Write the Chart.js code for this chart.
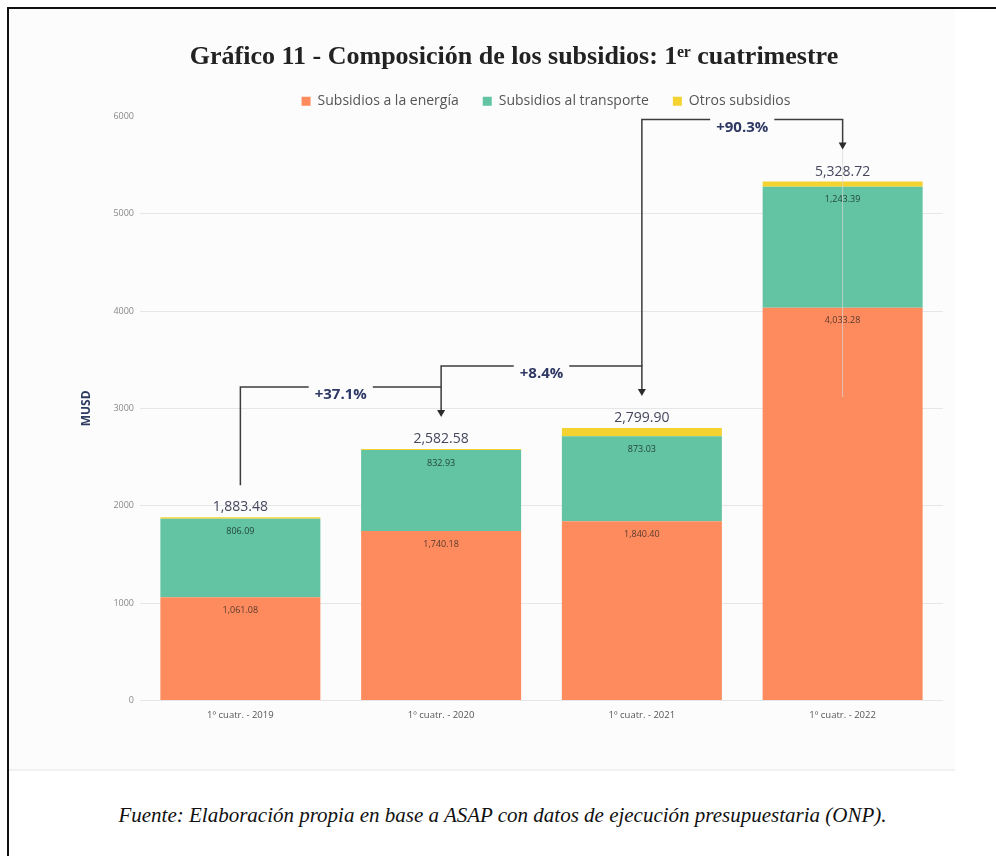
<!DOCTYPE html>
<html>
<head>
<meta charset="utf-8">
<script src="https://cdn.jsdelivr.net/npm/chart.js@4"></script>
<style>
  html, body { margin: 0; padding: 0; background: #fff; width: 996px; height: 856px; overflow: hidden; }
  #frame { position: absolute; left: 7px; top: 7px; width: 989px; height: 849px;
           border-left: 2px solid #111; border-top: 2px solid #111; }
  #box { position: absolute; left: 9px; top: 9px; width: 946px; height: 760px;
         background: #fcfcfd; border-bottom: 2px solid #f1f1f2; }
  #fuente { position: absolute; left: 9px; width: 987px; top: 803px; text-align: center;
            font-family: "Liberation Serif", serif; font-style: italic; font-size: 21px; color: #111; }
</style>
</head>
<body>
<div id="frame"></div>
<div id="box"><canvas id="bar-chart"></canvas></div>
<div id="fuente">Fuente: Elaboración propia en base a ASAP con datos de ejecución presupuestaria (ONP).</div>
<script>
const categories = ["1º cuatr. - 2019", "1º cuatr. - 2020", "1º cuatr. - 2021", "1º cuatr. - 2022"];
const energia = [1061.08, 1740.18, 1840.40, 4033.28];
const transporte = [806.09, 832.93, 873.03, 1243.39];
const otros = [16.31, 9.47, 86.47, 52.05];
const totales = [1883.48, 2582.58, 2799.90, 5328.72];
const variaciones = ["+37.1%", "+8.4%", "+90.3%"];
const yTicks = [0, 1000, 2000, 3000, 4000, 5000, 6000];

const fmt = v => v.toLocaleString("en-US", {minimumFractionDigits: 2, maximumFractionDigits: 2});

// nudge title and legend to where the original sits
const shiftPlugin = {
  id: "shift",
  afterLayout(chart) {
    const t = chart.titleBlock, l = chart.legend;
    t.left += 7; t.right += 7; t.top += 5; t.bottom += 5;
    l.left += 39; l.right += 39; l.top += 2; l.bottom += 2;
  }
};

const labelsPlugin = {
  id: "labels",
  afterDatasetsDraw(chart) {
    const ctx = chart.ctx;
    const y = chart.scales.y;
    ctx.save();
    ctx.textAlign = "center";
    ctx.textBaseline = "middle";
    // segment values
    [0, 1].forEach(di => {
      const meta = chart.getDatasetMeta(di);
      meta.data.forEach((bar, i) => {
        ctx.font = "9px 'Open Sans'";
        ctx.fillStyle = di === 0 ? "#5a3a2e" : "#24443a";
        ctx.fillText(fmt(chart.data.datasets[di].data[i]), bar.x, bar.y + 13);
      });
    });
    // totals
    const meta0 = chart.getDatasetMeta(0);
    const tops = [];
    meta0.data.forEach((bar, i) => {
      const top = y.getPixelForValue(totales[i]);
      tops.push({x: bar.x, top: top});
      ctx.font = "14px 'Open Sans'";
      ctx.fillStyle = "#44475c";
      ctx.fillText(fmt(totales[i]), bar.x, top - 10);
    });
    // growth brackets
    const tips = tops.map(t => t.top - 32);
    let start = tips[0];
    ctx.strokeStyle = "rgba(215,215,215,0.7)";
    ctx.lineWidth = 1;
    ctx.beginPath();
    ctx.moveTo(tops[3].x, tips[3]);
    ctx.lineTo(tops[3].x, tips[1] - 20);
    ctx.stroke();
    variaciones.forEach((txt, i) => {
      const x0 = tops[i].x, x1 = tops[i + 1].x;
      const level = tips[i + 1] - 30;
      ctx.strokeStyle = "#3c3c3c";
      ctx.lineWidth = 1.5;
      ctx.beginPath();
      ctx.moveTo(x0, start);
      ctx.lineTo(x0, level);
      ctx.lineTo(x1, level);
      ctx.lineTo(x1, tips[i + 1] - 5);
      ctx.stroke();
      ctx.fillStyle = "#2b2b2b";
      ctx.beginPath();
      ctx.moveTo(x1 - 4, tips[i + 1] - 7);
      ctx.lineTo(x1 + 4, tips[i + 1] - 7);
      ctx.lineTo(x1, tips[i + 1]);
      ctx.closePath();
      ctx.fill();
      ctx.font = "bold 15px 'Open Sans'";
      const w = ctx.measureText(txt).width;
      const cx = (x0 + x1) / 2;
      ctx.fillStyle = "#fcfcfd";
      ctx.fillRect(cx - w / 2 - 6, level - 3, w + 12, 20);
      ctx.fillStyle = "#2e3863";
      ctx.fillText(txt, cx, level + 8);
      start = level;
    });
    ctx.restore();
  }
};

const barChart = document.getElementById("bar-chart").getContext("2d");

let chart = new Chart(barChart, {
  type: "bar",
  data: {
    labels: categories,
    datasets: [
      { label: "Subsidios a la energía", backgroundColor: "#fe8b5e", data: energia },
      { label: "Subsidios al transporte", backgroundColor: "#62c4a2", data: transporte },
      { label: "Otros subsidios", backgroundColor: "#f4d331", data: otros }
    ]
  },
  options: {
    responsive: true,
    maintainAspectRatio: false,
    animation: false,
    layout: { padding: { left: 62, right: 12, top: 28, bottom: 39 } },
    datasets: { bar: { categoryPercentage: 1, barPercentage: 0.797 } },
    plugins: {
      title: {
        display: true,
        text: "Gráfico 11 - Composición de los subsidios: 1ᵉʳ cuatrimestre",
        color: "#222",
        font: { family: "'Liberation Serif'", size: 26, weight: "bold" },
        padding: { top: 0, bottom: 0 }
      },
      legend: {
        position: "top",
        labels: {
          boxWidth: 9, boxHeight: 9, padding: 24,
          color: "#555",
          font: { family: "'Open Sans'", size: 14 }
        }
      },
      tooltip: { enabled: false }
    },
    scales: {
      x: {
        stacked: true,
        grid: { display: false, drawTicks: false },
        border: { display: false },
        ticks: { color: "#555", font: { family: "'Open Sans'", size: 9.5 }, padding: 9 }
      },
      y: {
        stacked: true,
        min: 0, max: 6000,
        afterBuildTicks: s => { s.ticks = yTicks.map(v => ({value: v})); },
        afterFit: s => { s.width = 69; },
        grid: { color: ctx => (ctx.tick && ctx.tick.value === 6000) ? "rgba(0,0,0,0)" : "#e6e6e8", drawTicks: false },
        border: { display: false },
        title: { display: true, text: "MUSD", color: "#2c3a5e", font: { family: "'Open Sans'", size: 12, weight: "bold" }, padding: { top: 8, bottom: 0 } },
        ticks: { color: "#888", font: { family: "'Open Sans'", size: 9 }, padding: 6, callback: v => String(v) }
      }
    }
  },
  plugins: [shiftPlugin, labelsPlugin]
});
</script>
</body>
</html>
